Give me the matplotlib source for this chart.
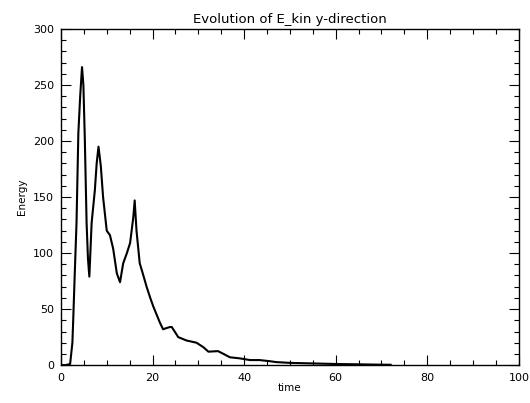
import numpy as np
import matplotlib.pyplot as plt
from matplotlib.ticker import MultipleLocator

# values
time = [0, 1, 2, 2.5, 2.7, 3.0, 3.4, 3.8, 4.2, 4.6, 4.9, 5.2, 5.6, 5.9, 6.2,
        6.7, 7.4, 7.8, 8.2, 8.7, 9.2, 10.0, 10.7, 11.4, 12.2, 12.9, 13.6,
        14.4, 15.1, 15.8, 16.1, 16.5, 17.2, 18.0, 18.7, 19.5, 20.2, 21.6,
        22.3, 23.0, 23.8, 24.2, 25.3, 25.6, 27.4, 29.6, 31.1, 32.2, 34.3,
        35.5, 36.9, 39.1, 41.3, 43.4, 45.6, 47.0, 50, 55, 60, 65, 70, 72]
energy = [0, 0, 1, 20, 43, 80, 127, 207, 240, 266, 250, 204, 127, 95, 79,
          127, 156, 180, 195, 178, 150, 120, 116, 104, 82, 74, 91, 100, 109,
          132, 147, 120, 91, 80, 70, 60, 52, 38, 32, 33, 34, 34, 27, 25, 22,
          20, 16, 12, 12.5, 10, 7, 6, 4.5, 4.5, 3.5, 2.7, 2.0, 1.5, 1.0, 0.7,
          0.4, 0.3]

plt.rcParams["font.family"] = "DejaVu Sans"
fig = plt.figure(figsize=(5.3, 4.03), dpi=100)
ax = fig.add_axes([0.115, 0.094, 0.864, 0.834])

ax.plot(time, energy, color="black", linewidth=1.5)

ax.set_xlim(0, 100)
ax.set_ylim(0, 300)
ax.xaxis.set_major_locator(MultipleLocator(20))
ax.xaxis.set_minor_locator(MultipleLocator(5))
ax.yaxis.set_major_locator(MultipleLocator(50))
ax.yaxis.set_minor_locator(MultipleLocator(10))
ax.tick_params(which="both", direction="in", top=True, right=True,
               labelsize=8, width=0.8)
ax.tick_params(which="major", length=7)
ax.tick_params(which="minor", length=3.5)
ax.tick_params(axis="x", pad=6)
ax.tick_params(axis="y", pad=5)
for s in ax.spines.values():
    s.set_linewidth(1.0)

ax.set_title("Evolution of E_kin y-direction", fontsize=9.5, pad=4)
ax.set_xlabel("time", fontsize=7.5, labelpad=0)
ax.set_ylabel("Energy", fontsize=7.5, labelpad=4)

fig.savefig("out.png", dpi=100)
